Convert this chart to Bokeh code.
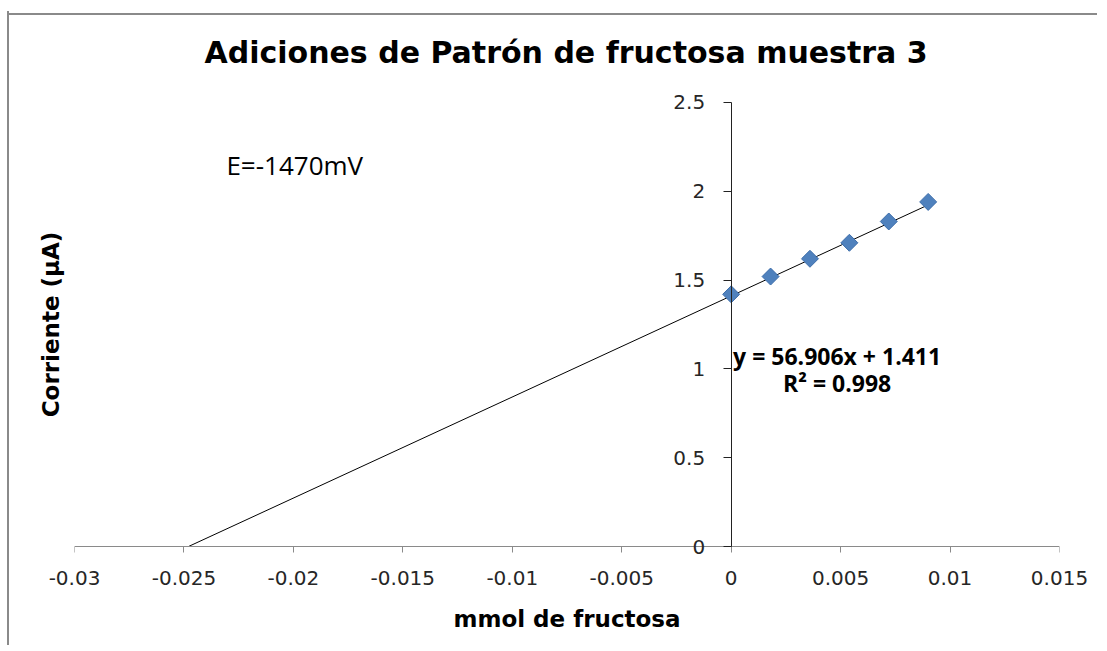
import numpy as np
from bokeh.plotting import figure
from bokeh.models import Label, FixedTicker, Title, Range1d, LinearAxis
from bokeh.embed import file_html
from bokeh.resources import INLINE

# ---- data ----
x_mmol = [0.0, 0.0018, 0.0036, 0.0054, 0.0072, 0.009]
y_current = [1.42, 1.52, 1.62, 1.71, 1.83, 1.94]
trend_slope = 56.906
trend_intercept = 1.411
trend_r2 = 0.998

x_ticks = [-0.03, -0.025, -0.02, -0.015, -0.01, -0.005, 0.0, 0.005, 0.01, 0.015]
x_tick_labels = ["-0.03", "-0.025", "-0.02", "-0.015", "-0.01", "-0.005", "0", "0.005", "0.01", "0.015"]
y_ticks = [0.0, 0.5, 1.0, 1.5, 2.0, 2.5]
y_tick_labels = ["0", "0.5", "1", "1.5", "2", "2.5"]

title_text = "Adiciones de  Patrón de fructosa  muestra 3"
x_label_text = "mmol de fructosa"
y_label_text = "Corriente (µA)"
potential_text = "E=-1470mV"
equation_text = "y = %.3fx + %.3f" % (trend_slope, trend_intercept)
r2_text = "R² = %.3f" % trend_r2

# axis extents and a small pad so tick labels at the ends are not clipped
x_min, x_max = -0.03, 0.015
y_min, y_max = 0.0, 2.5
y_pad = 0.0673

# ---- figure ----
p = figure(width=1090, height=634,
           x_range=Range1d(x_min, x_max), y_range=Range1d(y_min - y_pad, y_max + y_pad),
           output_backend="svg", toolbar_location=None,
           min_border_left=65, min_border_right=40,
           min_border_top=77, min_border_bottom=87)
p.styles = {"border-left": "2px solid #8a8a8a",
            "margin-top": "11px", "margin-left": "7px",
            "background": "linear-gradient(#8a8a8a, #8a8a8a) no-repeat 0 2px / 100% 2px"}
p.border_fill_color = None
p.outline_line_color = None
p.grid.grid_line_color = None
p.background_fill_color = "white"

# title
p.title.text = title_text
p.title.align = "left"
p.title.offset = 130
p.title.text_font = "DejaVu Sans"
p.title.text_font_size = "30px"
p.title.text_font_style = "bold"
p.title.text_color = "black"
p.title.standoff = 42

# y label on the far left
p.add_layout(Title(text=y_label_text, align="center", text_font="DejaVu Sans",
                   text_font_size="23px", text_font_style="bold",
                   text_color="black", standoff=22), "left")

# x axis line + ticks at y = 0
xa = p.xaxis[0]
xa.fixed_location = 0
xa.bounds = (x_min, x_max)
xa.ticker = FixedTicker(ticks=x_ticks)
xa.minor_tick_line_color = None
xa.major_tick_in = 0
xa.major_tick_out = 6
xa.axis_line_color = "#8a8a8a"
xa.major_tick_line_color = "#8a8a8a"
xa.major_label_text_alpha = 0
xa.major_label_text_font_size = "1px"

# x tick labels and axis title below the frame
xl = LinearAxis(ticker=FixedTicker(ticks=x_ticks),
                major_label_overrides=dict(zip(x_ticks, x_tick_labels)))
xl.axis_line_color = None
xl.major_tick_line_color = None
xl.minor_tick_line_color = None
xl.major_tick_out = 0
xl.major_tick_in = 0
xl.major_label_text_font = "DejaVu Sans"
xl.major_label_text_font_size = "20px"
xl.major_label_text_color = "#262626"
xl.major_label_standoff = 12
xl.axis_label = x_label_text
xl.axis_label_text_font = "DejaVu Sans"
xl.axis_label_text_font_size = "23px"
xl.axis_label_text_font_style = "bold"
xl.axis_label_text_color = "black"
xl.axis_label_standoff = 18
p.add_layout(xl, "below")

# y axis crossing at x = 0
ya = p.yaxis[0]
ya.fixed_location = 0
ya.bounds = (y_min, y_max)
ya.ticker = FixedTicker(ticks=y_ticks)
ya.major_label_overrides = dict(zip(y_ticks, y_tick_labels))
ya.minor_tick_line_color = None
ya.major_tick_in = 0
ya.major_tick_out = 8
ya.axis_line_color = "#222222"
ya.major_tick_line_color = "#222222"
ya.major_label_text_font = "DejaVu Sans"
ya.major_label_text_font_size = "20px"
ya.major_label_text_color = "#262626"
ya.major_label_standoff = 18

# trendline extended back to the x intercept
x_line = np.array([-trend_intercept / trend_slope, max(x_mmol)])
y_line = trend_slope * x_line + trend_intercept
p.line(x_line, y_line, line_color="black", line_width=1)

# data points (Excel-style diamonds)
p.scatter(x_mmol, y_current, marker="square", angle=np.pi / 4, size=12,
          fill_color="#4F81BD", line_color="#3C6DAA", line_width=1)

# annotations
p.add_layout(Label(x=-0.02306, y=2.15, text=potential_text, text_align="left",
                   text_baseline="middle", text_font="Open Sans",
                   text_font_size="26px", text_color="black"))
p.add_layout(Label(x=0.00484, y=1.071, text=equation_text, text_align="center",
                   text_baseline="middle", text_font="Open Sans",
                   text_font_size="23px", text_font_style="bold", text_color="black"))
p.add_layout(Label(x=0.00484, y=0.92, text=r2_text, text_align="center",
                   text_baseline="middle", text_font="Open Sans",
                   text_font_size="23px", text_font_style="bold", text_color="black"))

open("out.html", "w").write(file_html(p, INLINE))
